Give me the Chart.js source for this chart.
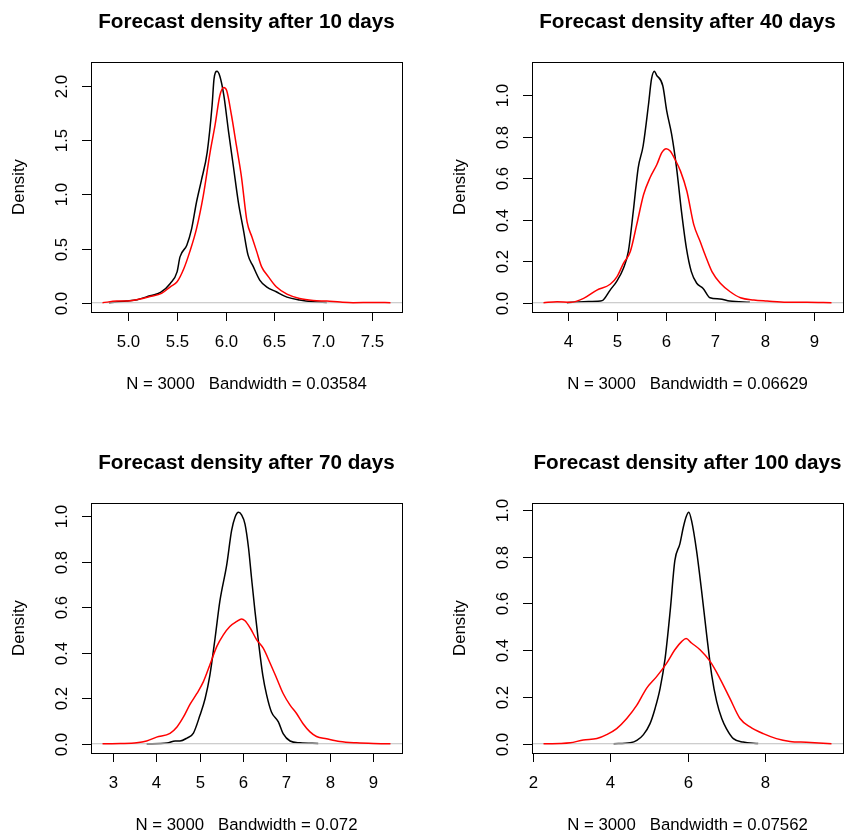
<!DOCTYPE html>
<html>
<head>
<meta charset="utf-8">
<title>Forecast densities</title>
<script src="https://cdn.jsdelivr.net/npm/chart.js@4.4.1/dist/chart.umd.min.js"></script>
<style>
    html, body { margin: 0; padding: 0; background: #fff; overflow: hidden; }
    #page { position: relative; width: 847px; height: 838px; }
    .cell { position: absolute; width: 406px; height: 397px; }
</style>
</head>
<body>
<div id="page">
    <div class="cell" style="left:0;top:0"><canvas id="c10" width="406" height="397"></canvas></div>
    <div class="cell" style="left:441px;top:0"><canvas id="c40" width="406" height="397"></canvas></div>
    <div class="cell" style="left:0;top:441px"><canvas id="c70" width="406" height="397"></canvas></div>
    <div class="cell" style="left:441px;top:441px"><canvas id="c100" width="406" height="397"></canvas></div>
</div>
<script>
// ---- density estimates, [x, density] pairs ----
const black10 = [
    [4.80, 0.000], [4.98, 0.015], [5.09, 0.028], [5.22, 0.064], [5.33, 0.095],
    [5.43, 0.178], [5.50, 0.285], [5.53, 0.423], [5.60, 0.531], [5.65, 0.684],
    [5.70, 0.929], [5.75, 1.129], [5.81, 1.390], [5.86, 1.819], [5.88, 2.064],
    [5.91, 2.135], [5.94, 2.089], [5.98, 1.917], [6.03, 1.574], [6.08, 1.252],
    [6.13, 0.929], [6.18, 0.684], [6.23, 0.439], [6.28, 0.340], [6.35, 0.209],
    [6.42, 0.147], [6.52, 0.101], [6.63, 0.052], [6.76, 0.025], [6.90, 0.009],
    [7.04, 0.003]
];
const red10 = [
    [4.733, 0.000], [4.88, 0.015], [5.02, 0.018], [5.12, 0.034], [5.22, 0.058],
    [5.34, 0.086], [5.43, 0.147], [5.50, 0.193], [5.57, 0.316], [5.63, 0.469],
    [5.70, 0.684], [5.77, 0.991], [5.84, 1.390], [5.89, 1.635], [5.94, 1.911],
    [5.98, 1.985], [6.01, 1.957], [6.06, 1.727], [6.11, 1.451], [6.16, 1.175],
    [6.22, 0.745], [6.27, 0.607], [6.32, 0.469], [6.37, 0.331], [6.44, 0.239],
    [6.52, 0.147], [6.63, 0.080], [6.76, 0.040], [6.90, 0.021], [7.04, 0.015],
    [7.18, 0.006], [7.31, 0.001], [7.52, 0.003], [7.695, 0.000]
];

const black40 = [
    [3.98, 0.000], [4.32, 0.005], [4.66, 0.008], [4.72, 0.013], [4.86, 0.061],
    [4.99, 0.102], [5.13, 0.166], [5.23, 0.247], [5.33, 0.440], [5.43, 0.650],
    [5.53, 0.755], [5.64, 0.956], [5.70, 1.077], [5.76, 1.115], [5.80, 1.098],
    [5.93, 1.045], [6.01, 0.924], [6.11, 0.811], [6.21, 0.650], [6.31, 0.440],
    [6.41, 0.263], [6.51, 0.150], [6.62, 0.094], [6.75, 0.069], [6.89, 0.024],
    [7.09, 0.018], [7.29, 0.008], [7.70, 0.002]
];
const red40 = [
    [3.505, 0.000], [3.78, 0.005], [4.05, 0.002], [4.32, 0.021], [4.59, 0.061],
    [4.86, 0.089], [5.00, 0.126], [5.13, 0.190], [5.27, 0.247], [5.40, 0.376],
    [5.54, 0.521], [5.67, 0.602], [5.81, 0.666], [5.91, 0.723], [6.00, 0.742],
    [6.08, 0.731], [6.18, 0.690], [6.29, 0.634], [6.42, 0.537], [6.56, 0.376],
    [6.69, 0.295], [6.79, 0.231], [6.93, 0.150], [7.10, 0.094], [7.30, 0.053],
    [7.51, 0.024], [7.78, 0.013], [8.05, 0.008], [8.45, 0.002], [8.86, 0.002],
    [9.36, 0.000]
];

const black70 = [
    [3.78, 0.000], [4.25, 0.003], [4.44, 0.012], [4.55, 0.012], [4.71, 0.025],
    [4.86, 0.047], [5.01, 0.125], [5.13, 0.199], [5.24, 0.302], [5.36, 0.465],
    [5.47, 0.627], [5.63, 0.789], [5.74, 0.937], [5.82, 0.996], [5.90, 1.018],
    [5.97, 1.007], [6.05, 0.966], [6.13, 0.863], [6.20, 0.730], [6.28, 0.583],
    [6.36, 0.450], [6.46, 0.302], [6.55, 0.214], [6.66, 0.140], [6.82, 0.096],
    [6.93, 0.044], [7.09, 0.012], [7.32, 0.004], [7.74, 0.001]
];
const red70 = [
    [2.762, 0.000], [3.17, 0.001], [3.55, 0.004], [3.78, 0.012], [4.01, 0.029],
    [4.32, 0.046], [4.48, 0.074], [4.63, 0.118], [4.78, 0.173], [4.94, 0.221],
    [5.09, 0.273], [5.24, 0.347], [5.40, 0.428], [5.55, 0.479], [5.70, 0.516],
    [5.86, 0.538], [5.97, 0.549], [6.05, 0.541], [6.17, 0.509], [6.32, 0.457],
    [6.47, 0.420], [6.63, 0.354], [6.78, 0.288], [6.93, 0.221], [7.09, 0.170],
    [7.24, 0.133], [7.39, 0.088], [7.55, 0.052], [7.70, 0.032], [7.93, 0.022],
    [8.24, 0.010], [8.62, 0.004], [9.01, 0.001], [9.407, 0.000]
];

const black100 = [
    [4.09, 0.000], [4.52, 0.004], [4.69, 0.014], [4.86, 0.039], [5.03, 0.086],
    [5.16, 0.151], [5.29, 0.237], [5.42, 0.366], [5.55, 0.568], [5.67, 0.783],
    [5.80, 0.855], [5.89, 0.927], [5.96, 0.970], [6.03, 0.990], [6.10, 0.955],
    [6.23, 0.826], [6.36, 0.654], [6.49, 0.467], [6.62, 0.295], [6.75, 0.180],
    [6.88, 0.108], [7.00, 0.065], [7.18, 0.022], [7.43, 0.007], [7.82, 0.001]
];
const red100 = [
    [2.283, 0.000], [2.71, 0.001], [2.97, 0.004], [3.31, 0.016], [3.66, 0.022],
    [3.91, 0.039], [4.17, 0.065], [4.43, 0.108], [4.69, 0.165], [4.94, 0.237],
    [5.20, 0.287], [5.46, 0.345], [5.67, 0.402], [5.85, 0.438], [5.96, 0.450],
    [6.10, 0.431], [6.32, 0.402], [6.58, 0.352], [6.83, 0.280], [7.09, 0.194],
    [7.35, 0.108], [7.61, 0.072], [7.95, 0.043], [8.29, 0.022], [8.64, 0.010],
    [9.06, 0.006], [9.71, 0.000]
];

// ---- ticks and labels ----
const xTicks10 = [5.0, 5.5, 6.0, 6.5, 7.0, 7.5];
const xLabels10 = ["5.0", "5.5", "6.0", "6.5", "7.0", "7.5"];
const yTicks10 = [0, 0.5, 1.0, 1.5, 2.0];
const yLabels10 = ["0.0", "0.5", "1.0", "1.5", "2.0"];

const xTicks40 = [4, 5, 6, 7, 8, 9];
const xLabels40 = ["4", "5", "6", "7", "8", "9"];
const xTicks70 = [3, 4, 5, 6, 7, 8, 9];
const xLabels70 = ["3", "4", "5", "6", "7", "8", "9"];
const xTicks100 = [2, 4, 6, 8];
const xLabels100 = ["2", "4", "6", "8"];

const yTicksUnit = [0, 0.2, 0.4, 0.6, 0.8, 1.0];
const yLabelsUnit = ["0.0", "0.2", "0.4", "0.6", "0.8", "1.0"];

const titles = [
    "Forecast density after 10 days",
    "Forecast density after 40 days",
    "Forecast density after 70 days",
    "Forecast density after 100 days"
];
const subtitles = [
    "N = 3000   Bandwidth = 0.03584",
    "N = 3000   Bandwidth = 0.06629",
    "N = 3000   Bandwidth = 0.072",
    "N = 3000   Bandwidth = 0.07562"
];

const FONT = '"Liberation Sans", Arial, Helvetica, sans-serif';

// R-style frame, ticks and annotations drawn over the plot area
const rAxesPlugin = {
    id: "rAxes",
    afterDraw(chart, _args, opts) {
        const { ctx, chartArea: a, scales } = chart;
        const p = opts.panel;
        ctx.save();
        ctx.strokeStyle = "#000";
        ctx.fillStyle = "#000";
        ctx.lineWidth = 1;

        ctx.strokeRect(a.left + 0.5, a.top + 0.5, a.right - a.left, a.bottom - a.top);

        ctx.font = "16.8px " + FONT;
        ctx.textAlign = "center";
        ctx.textBaseline = "alphabetic";

        p.xTicks.forEach((v, i) => {
            const px = Math.round(scales.x.getPixelForValue(v)) + 0.5;
            ctx.beginPath();
            ctx.moveTo(px, a.bottom);
            ctx.lineTo(px, a.bottom + 9);
            ctx.stroke();
            ctx.fillText(p.xLabels[i], px, a.bottom + 35);
        });

        p.yTicks.forEach((v, i) => {
            const py = Math.round(scales.y.getPixelForValue(v)) + 0.5;
            ctx.beginPath();
            ctx.moveTo(a.left, py);
            ctx.lineTo(a.left - 9, py);
            ctx.stroke();
            ctx.save();
            ctx.translate(a.left - 24.5, py);
            ctx.rotate(-Math.PI / 2);
            ctx.fillText(p.yLabels[i], 0, 0);
            ctx.restore();
        });

        const cx = (a.left + a.right) / 2;
        ctx.fillText(p.sub, cx, a.bottom + 77);

        ctx.save();
        ctx.translate(a.left - 67, (a.top + a.bottom) / 2);
        ctx.rotate(-Math.PI / 2);
        ctx.fillText("Density", 0, 0);
        ctx.restore();

        ctx.font = "bold 20.7px " + FONT;
        ctx.fillText(p.title, cx, a.top - 34);
        ctx.restore();
    }
};

function pts(arr) {
    return arr.map(([x, y]) => ({ x, y }));
}

// axis limits the way R pads a range: 4% on each side
function padded(lo, hi) {
    const d = (hi - lo) * 0.04;
    return [lo - d, hi + d];
}

function drawPanel(id, panel) {
    const xs = panel.black.concat(panel.red).map((d) => d[0]);
    const [xMin, xMax] = padded(Math.min(...xs), Math.max(...xs));
    const [yMin, yMax] = padded(0, Math.max(...panel.black.map((d) => d[1])));

    new Chart(document.getElementById(id), {
        type: "line",
        data: {
            datasets: [
                { data: pts(panel.red), borderColor: "#ff0000", order: 0 },
                {
                    data: [{ x: xMin, y: 0 }, { x: xMax, y: 0 }],
                    borderColor: "#bebebe",
                    borderWidth: 1,
                    cubicInterpolationMode: "default",
                    order: 1
                },
                { data: pts(panel.black), borderColor: "#000000", order: 2 }
            ]
        },
        options: {
            responsive: false,
            animation: false,
            events: [],
            layout: { padding: { left: 91, top: 62, right: 4, bottom: 85 } },
            elements: {
                point: { radius: 0 },
                line: { borderWidth: 1.5, cubicInterpolationMode: "monotone", fill: false }
            },
            scales: {
                x: { type: "linear", min: xMin, max: xMax, display: false },
                y: { type: "linear", min: yMin, max: yMax, display: false }
            },
            plugins: {
                legend: { display: false },
                tooltip: { enabled: false },
                rAxes: { panel }
            }
        },
        plugins: [rAxesPlugin]
    });
}

drawPanel("c10", {
    black: black10, red: red10,
    xTicks: xTicks10, xLabels: xLabels10, yTicks: yTicks10, yLabels: yLabels10,
    title: titles[0], sub: subtitles[0]
});
drawPanel("c40", {
    black: black40, red: red40,
    xTicks: xTicks40, xLabels: xLabels40, yTicks: yTicksUnit, yLabels: yLabelsUnit,
    title: titles[1], sub: subtitles[1]
});
drawPanel("c70", {
    black: black70, red: red70,
    xTicks: xTicks70, xLabels: xLabels70, yTicks: yTicksUnit, yLabels: yLabelsUnit,
    title: titles[2], sub: subtitles[2]
});
drawPanel("c100", {
    black: black100, red: red100,
    xTicks: xTicks100, xLabels: xLabels100, yTicks: yTicksUnit, yLabels: yLabelsUnit,
    title: titles[3], sub: subtitles[3]
});
</script>
</body>
</html>
